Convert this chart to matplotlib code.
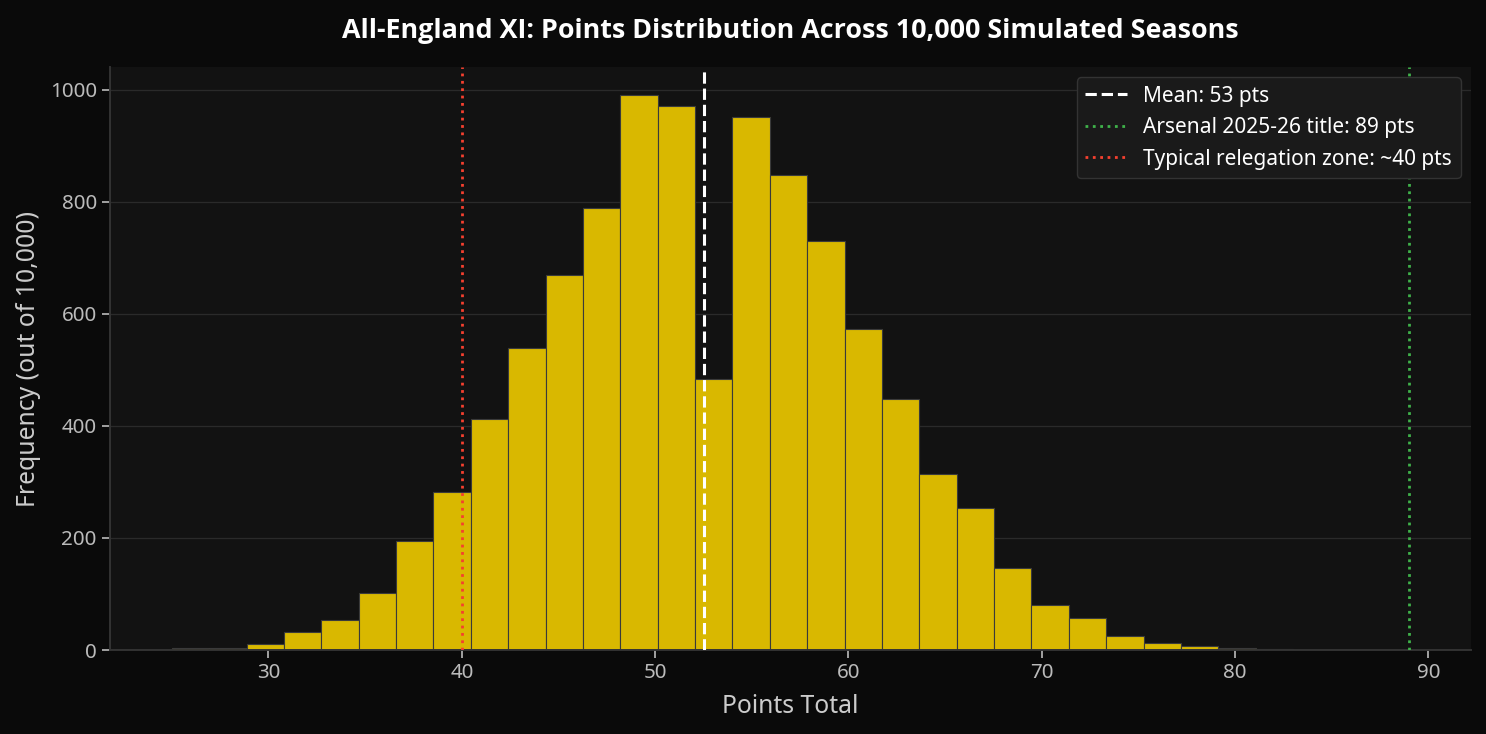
import numpy as np
import matplotlib.pyplot as plt

# histogram: 30 equal bins from 25 to 83 points
bin_lo = 25
bin_hi = 83
counts = [3, 3, 11, 33, 54, 102, 195, 282, 412, 539,
          669, 789, 991, 971, 483, 951, 848, 730, 573, 448,
          315, 253, 146, 80, 57, 25, 12, 7, 4, 1]
mean_pts = 52.55
title_pts = 89
releg_pts = 40

edges = np.linspace(bin_lo, bin_hi, len(counts) + 1)

plt.rcParams["font.family"] = ["Noto Sans", "DejaVu Sans"]

fig = plt.figure(figsize=(14.86, 7.34), dpi=100, facecolor="#0a0a0a")
ax = fig.add_axes([0.074, 0.1144, 0.9159, 0.7943])
ax.set_facecolor("#121212")

ax.hist(edges[:-1], bins=edges, weights=counts, color="#d9b800",
        edgecolor="#3a3a3a", linewidth=0.8, zorder=2)

ax.axvline(mean_pts, color="white", linestyle="--", linewidth=2.2,
           label=f"Mean: {mean_pts:.0f} pts", zorder=3)
ax.axvline(title_pts, color="#3fb24a", linestyle=":", linewidth=2,
           label=f"Arsenal 2025-26 title: {title_pts} pts", zorder=3)
ax.axvline(releg_pts, color="#f5402f", linestyle=":", linewidth=2,
           label=f"Typical relegation zone: ~{releg_pts} pts", zorder=3)

ax.grid(axis="y", color="#2a2a2a", linewidth=0.9, zorder=0)
ax.set_axisbelow(True)
for side in ["top", "right"]:
    ax.spines[side].set_visible(False)
for side in ["left", "bottom"]:
    ax.spines[side].set_color("#333333")
    ax.spines[side].set_linewidth(1.4)

ax.tick_params(colors="#bbbbbb", labelsize=14.8, length=6, width=1.2)
ax.set_xlabel("Points Total", color="#cccccc", fontsize=17.8, labelpad=8)
ax.set_ylabel("Frequency (out of 10,000)", color="#cccccc", fontsize=17.8, labelpad=6)
ax.set_title("All-England XI: Points Distribution Across 10,000 Simulated Seasons",
             color="white", fontsize=19.4, fontweight="bold", pad=21,
             family=["Open Sans", "DejaVu Sans"])

leg = ax.legend(loc="upper right", fontsize=15, facecolor="#1a1a1a",
                edgecolor="#333333", labelcolor="white", framealpha=1)

fig.savefig("out.png", dpi=100, facecolor=fig.get_facecolor())
